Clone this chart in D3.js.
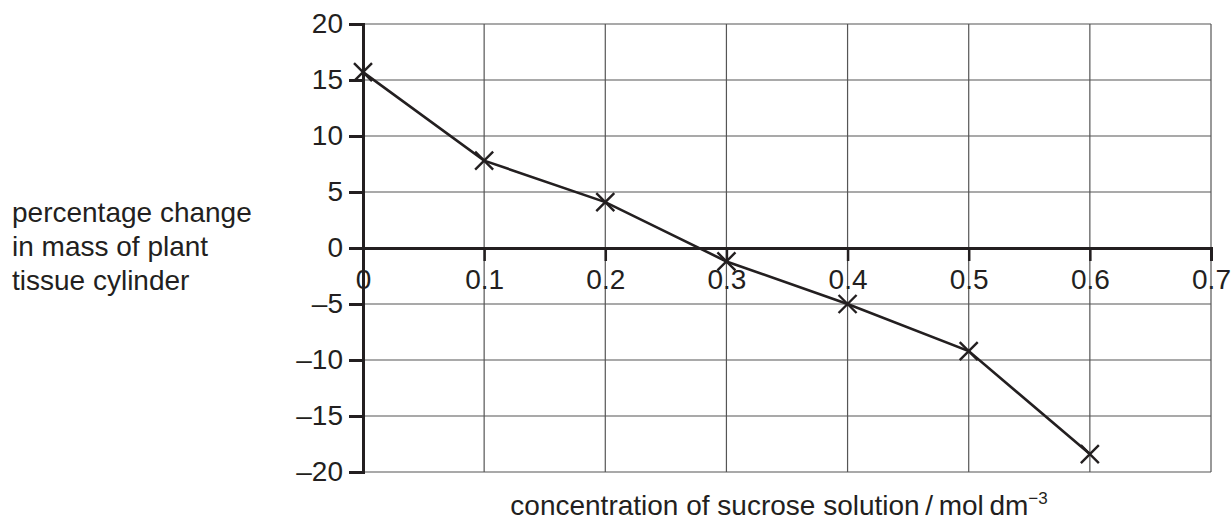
<!DOCTYPE html>
<html>
<head>
<meta charset="utf-8">
<script src="https://cdn.jsdelivr.net/npm/d3@7"></script>
<style>
  body { margin: 0; background: #fff; }
  text { font-family: "Liberation Sans", Arial, sans-serif; fill: #231f20; }
</style>
</head>
<body>
<script>
// données
const concentration = [0, 0.1, 0.2, 0.3, 0.4, 0.5, 0.6];
const massChange = [15.7, 7.8, 4.1, -1.2, -5.0, -9.2, -18.4];
const xTicks = [0, 0.1, 0.2, 0.3, 0.4, 0.5, 0.6, 0.7];
const yTicks = [20, 15, 10, 5, 0, -5, -10, -15, -20];
const yTitle = ["percentage change", "in mass of plant", "tissue cylinder"];

const W = 1232, H = 520;
const ink = "#231f20";

let svg = d3.select("body").append("svg")
    .attr("width", W)
    .attr("height", H);

// échelles
let x = d3.scaleLinear().domain([0, 0.7]).range([363, 1211]);
let y = d3.scaleLinear().domain([-20, 20]).range([472, 24]);

// grille
svg.append("g")
    .selectAll("line")
    .data(yTicks)
    .enter()
    .append("line")
    .attr("x1", x(0)).attr("x2", x(0.7))
    .attr("y1", d => y(d)).attr("y2", d => y(d))
    .attr("stroke", "#555").attr("stroke-width", 1.2);

svg.append("g")
    .selectAll("line")
    .data(xTicks.slice(1))
    .enter()
    .append("line")
    .attr("x1", d => x(d)).attr("x2", d => x(d))
    .attr("y1", y(20)).attr("y2", y(-20))
    .attr("stroke", "#555").attr("stroke-width", 1.2);

// axe Y (gauche)
let axisY = svg.append("g")
    .attr("transform", "translate(" + x(0) + ",0)")
    .call(d3.axisLeft(y).tickValues(yTicks).tickSize(14).tickPadding(6)
        .tickFormat(d => d < 0 ? "\u2013" + Math.abs(d) : d));
axisY.select(".domain").attr("stroke", ink).attr("stroke-width", 3);
axisY.selectAll(".tick line").attr("stroke", ink).attr("stroke-width", 3);
axisY.selectAll("text")
    .style("font-size", "28px")
    .style("font-family", "Liberation Sans, Arial, sans-serif")
    .attr("fill", ink);

// axe X (à y = 0)
let axisX = svg.append("g")
    .attr("transform", "translate(0," + y(0) + ")")
    .call(d3.axisBottom(x).tickValues(xTicks).tickSize(13).tickPadding(8)
        .tickFormat(d => d === 0 ? "0" : d3.format(".1f")(d)));
axisX.select(".domain").attr("stroke", ink).attr("stroke-width", 3);
axisX.selectAll(".tick line").attr("stroke", ink).attr("stroke-width", 2.5);
axisX.selectAll("text")
    .style("font-size", "28px")
    .style("font-family", "Liberation Sans, Arial, sans-serif")
    .attr("fill", ink);

// courbe
let pts = concentration.map((c, i) => [c, massChange[i]]);
svg.append("path")
    .datum(pts)
    .attr("fill", "none")
    .attr("stroke", ink)
    .attr("stroke-width", 2.6)
    .attr("d", d3.line().x(d => x(d[0])).y(d => y(d[1])));

// croix
let s = 9;
let marks = svg.append("g").selectAll("g")
    .data(pts)
    .enter()
    .append("g")
    .attr("transform", d => "translate(" + x(d[0]) + "," + y(d[1]) + ")");
marks.append("path")
    .attr("d", "M" + (-s) + "," + (-s) + "L" + s + "," + s + "M" + (-s) + "," + s + "L" + s + "," + (-s))
    .attr("stroke", ink)
    .attr("stroke-width", 2.4)
    .attr("fill", "none");

// titres
svg.append("g")
    .selectAll("text")
    .data(yTitle)
    .enter()
    .append("text")
    .text(d => d)
    .attr("x", 12)
    .attr("y", (d, i) => 222 + i * 34)
    .style("font-size", "28px");

let xt = svg.append("text")
    .attr("x", 779)
    .attr("y", 515)
    .attr("text-anchor", "middle")
    .style("font-size", "28px");
xt.append("tspan").text("concentration of sucrose solution\u2009/\u2009mol\u2009dm");
xt.append("tspan").text("\u22123").attr("dy", -11).style("font-size", "17px");
</script>
</body>
</html>
